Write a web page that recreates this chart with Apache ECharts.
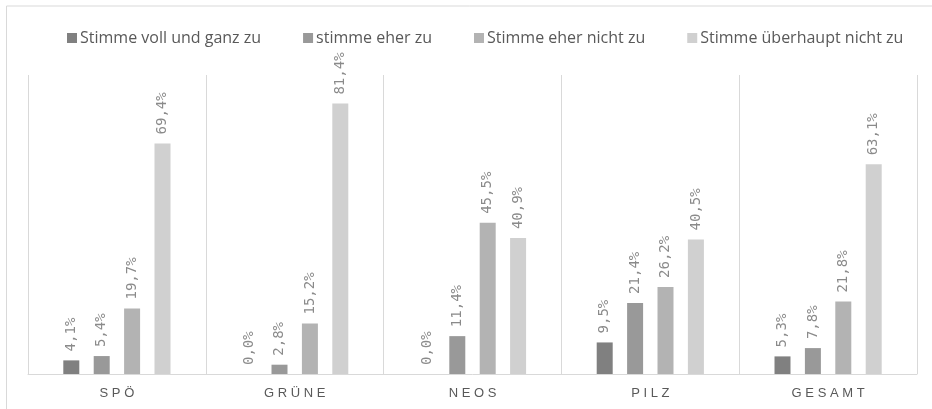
<!DOCTYPE html>
<html>
<head>
<meta charset="utf-8">
<script src="https://cdn.jsdelivr.net/npm/echarts@6/dist/echarts.min.js"></script>
<style>
html,body{margin:0;padding:0;background:#fff;}
#chart{width:932px;height:409px;}
</style>
</head>
<body>
<div id="chart"></div>
<script>
const categories = ['SPÖ', 'GRÜNE', 'NEOS', 'PILZ', 'GESAMT'];
const seriesNames = ['Stimme voll und ganz zu', 'stimme eher zu', 'Stimme eher nicht zu', 'Stimme überhaupt nicht zu'];
const vollUndGanz = [4.1, 0.0, 0.0, 9.5, 5.3];
const eher = [5.4, 2.8, 11.4, 21.4, 7.8];
const eherNicht = [19.7, 15.2, 45.5, 26.2, 21.8];
const ueberhauptNicht = [69.4, 81.4, 40.9, 40.5, 63.1];
const colors = ['#808080', '#999999', '#b3b3b3', '#d0d0d0'];

const dataSets = [vollUndGanz, eher, eherNicht, ueberhauptNicht];

const chart = echarts.init(document.getElementById('chart'), null, {renderer: 'canvas'});
chart.setOption({
  animation: false,
  backgroundColor: '#ffffff',
  graphic: [
    {type: 'line', shape: {x1: 6.5, y1: 6, x2: 932, y2: 6}, style: {stroke: '#d9d9d9', lineWidth: 1}},
    {type: 'line', shape: {x1: 6.5, y1: 6, x2: 6.5, y2: 409}, style: {stroke: '#d9d9d9', lineWidth: 1}}
  ],
  legend: {
    left: 67,
    top: 30,
    padding: 0,
    icon: 'rect',
    itemWidth: 10,
    itemHeight: 10,
    itemGap: 42,
    textStyle: {fontFamily: 'Open Sans', fontSize: 16, color: '#595959', padding: [0, 0, 0, -2]},
    data: seriesNames
  },
  grid: {left: 28, right: 15, top: 75, bottom: 35},
  xAxis: {
    type: 'category',
    data: categories,
    axisLine: {lineStyle: {color: '#d9d9d9'}},
    axisTick: {show: false},
    splitLine: {show: true, lineStyle: {color: '#d9d9d9'}},
    axisLabel: {
      fontFamily: 'Liberation Sans',
      fontSize: 13,
      color: '#595959',
      margin: 13,
      formatter: v => v.split('').join(' ')
    }
  },
  yAxis: {
    type: 'value',
    min: 0,
    max: 90,
    show: false,
    splitLine: {show: false}
  },
  series: seriesNames.map((name, i) => ({
    name: name,
    type: 'bar',
    data: dataSets[i],
    barWidth: 16,
    barGap: '90%',
    itemStyle: {color: colors[i]},
    label: {
      show: true,
      position: 'top',
      rotate: 90,
      align: 'left',
      verticalAlign: 'middle',
      distance: 9,
      fontFamily: 'DejaVu Sans Mono',
      fontSize: 14,
      color: '#8a8a8a',
      formatter: p => p.value.toFixed(1).replace('.', ',') + '%'
    }
  }))
});
</script>
</body>
</html>
